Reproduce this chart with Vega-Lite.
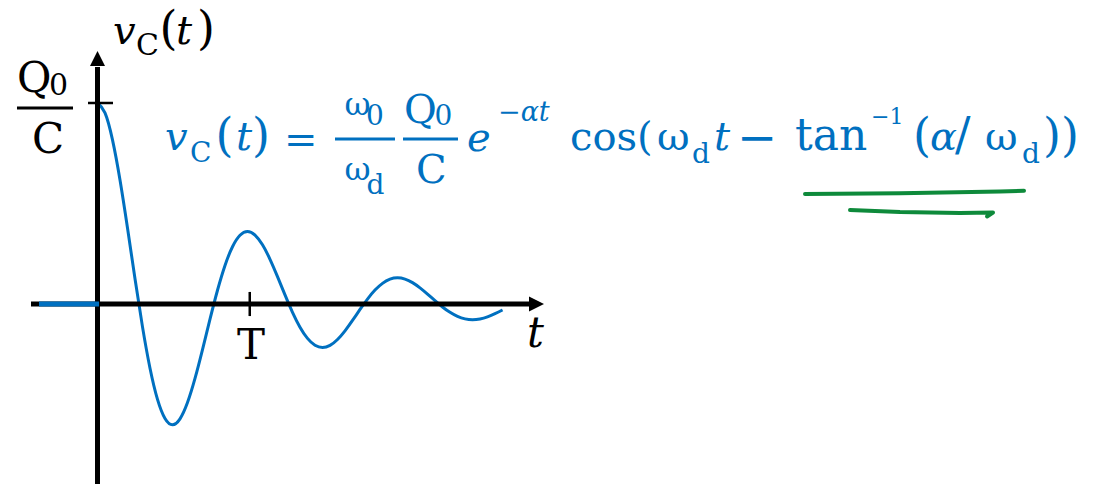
{
  "$schema": "https://vega.github.io/schema/vega-lite/v6.json",
  "width": 1094,
  "height": 484,
  "autosize": {"type": "none"},
  "padding": 0,
  "background": "white",
  "config": {"view": {"stroke": null}},
  "datasets": {
    "curve": [
      {"t": 0.00, "v": 1.0000}, {"t": 0.05, "v": 0.9513}, {"t": 0.10, "v": 0.8167}, {"t": 0.15, "v": 0.6171},
      {"t": 0.20, "v": 0.3779}, {"t": 0.25, "v": 0.1258}, {"t": 0.30, "v": -0.1139}, {"t": 0.35, "v": -0.3194},
      {"t": 0.40, "v": -0.4745}, {"t": 0.45, "v": -0.5693}, {"t": 0.50, "v": -0.6005}, {"t": 0.55, "v": -0.5713},
      {"t": 0.60, "v": -0.4904}, {"t": 0.65, "v": -0.3705}, {"t": 0.70, "v": -0.2269}, {"t": 0.75, "v": -0.0755},
      {"t": 0.80, "v": 0.0684}, {"t": 0.85, "v": 0.1918}, {"t": 0.90, "v": 0.2849}, {"t": 0.95, "v": 0.3418},
      {"t": 1.00, "v": 0.3606}, {"t": 1.05, "v": 0.3430}, {"t": 1.10, "v": 0.2945}, {"t": 1.15, "v": 0.2225},
      {"t": 1.20, "v": 0.1363}, {"t": 1.25, "v": 0.0454}, {"t": 1.30, "v": -0.0411}, {"t": 1.35, "v": -0.1152},
      {"t": 1.40, "v": -0.1711}, {"t": 1.45, "v": -0.2053}, {"t": 1.50, "v": -0.2165}, {"t": 1.55, "v": -0.2060},
      {"t": 1.60, "v": -0.1768}, {"t": 1.65, "v": -0.1336}, {"t": 1.70, "v": -0.0818}, {"t": 1.75, "v": -0.0272},
      {"t": 1.80, "v": 0.0247}, {"t": 1.85, "v": 0.0692}, {"t": 1.90, "v": 0.1027}, {"t": 1.95, "v": 0.1233},
      {"t": 2.00, "v": 0.1300}, {"t": 2.05, "v": 0.1237}, {"t": 2.10, "v": 0.1062}, {"t": 2.15, "v": 0.0802},
      {"t": 2.20, "v": 0.0491}, {"t": 2.25, "v": 0.0164}, {"t": 2.30, "v": -0.0148}, {"t": 2.35, "v": -0.0415},
      {"t": 2.40, "v": -0.0617}, {"t": 2.45, "v": -0.0740}, {"t": 2.50, "v": -0.0781}, {"t": 2.55, "v": -0.0743},
      {"t": 2.60, "v": -0.0638}, {"t": 2.65, "v": -0.0482}, {"t": 2.70, "v": -0.0295}
    ],
    "before": [{"t": -0.39, "v": 0}, {"t": 0.01, "v": 0}],
    "xAxisLine": [{"t": -0.4433, "v": 0}, {"t": 2.8833, "v": 0}],
    "yAxisLine": [{"t": 0, "v": -0.8955}, {"t": 0, "v": 1.1791}],
    "xArrow": [{"t": 2.9767, "v": 0}],
    "yArrow": [{"t": 0, "v": 1.2587}],
    "ticks": [
      {"id": "Q0/C", "t": -0.0633, "v": 1}, {"id": "Q0/C", "t": 0.1033, "v": 1},
      {"id": "T", "t": 1.015, "v": 0.06}, {"id": "T", "t": 1.015, "v": -0.06}
    ],
    "axisFractionBar": [{"t": -0.5367, "v": 0.9751}, {"t": -0.1633, "v": 0.9751}],
    "formulaBars": [
      {"id": "w0/wd", "t": 1.5833, "v": 0.8209}, {"id": "w0/wd", "t": 1.9833, "v": 0.8209},
      {"id": "Q0/C", "t": 2.0367, "v": 0.8209}, {"id": "Q0/C", "t": 2.4033, "v": 0.8209}
    ],
    "underlines": [
      {"id": 1, "seq": 1, "t": 4.7167, "v": 0.5473}, {"id": 1, "seq": 2, "t": 5.35, "v": 0.5507},
      {"id": 1, "seq": 3, "t": 6.0167, "v": 0.5597}, {"id": 1, "seq": 4, "t": 6.1767, "v": 0.5632},
      {"id": 2, "seq": 1, "t": 5.0167, "v": 0.4677}, {"id": 2, "seq": 2, "t": 5.35, "v": 0.4577},
      {"id": 2, "seq": 3, "t": 5.75, "v": 0.4527}, {"id": 2, "seq": 4, "t": 5.97, "v": 0.4552},
      {"id": 2, "seq": 5, "t": 5.93, "v": 0.4353}
    ],
    "axisItalic": [
      {"text": "v", "t": 0.1033, "v": 1.2935}, {"text": "t", "t": 0.5233, "v": 1.2935}
    ],
    "axisParens": [
      {"text": "(", "t": 0.4133, "v": 1.2935}, {"text": ")", "t": 0.6633, "v": 1.2935}
    ],
    "axisSub": [
      {"text": "C", "t": 0.2567, "v": 1.2388}, {"text": "0", "t": -0.3233, "v": 1.0398}
    ],
    "axisLarge": [
      {"text": "Q", "t": -0.5367, "v": 1.0547}, {"text": "C", "t": -0.4367, "v": 0.7512},
      {"text": "T", "t": 0.93, "v": -0.2736}
    ],
    "axisTime": [{"text": "t", "t": 2.8633, "v": -0.2139}],
    "formulaItalic": [
      {"text": "v", "t": 0.45, "v": 0.7662}, {"text": "t", "t": 0.9233, "v": 0.7662},
      {"text": "e", "t": 2.4633, "v": 0.7612}, {"text": "t", "t": 4.11, "v": 0.7662},
      {"text": "α", "t": 5.55, "v": 0.7662}
    ],
    "formulaParens": [
      {"text": "(", "t": 0.7867, "v": 0.7612}, {"text": ")", "t": 1.03, "v": 0.7612},
      {"text": "(", "t": 5.4367, "v": 0.7612}, {"text": "/", "t": 5.7167, "v": 0.7662},
      {"text": "))", "t": 6.3033, "v": 0.7612}
    ],
    "formulaUpright": [
      {"text": "=", "t": 1.2433, "v": 0.7512}, {"text": "Q", "t": 2.0433, "v": 0.9005},
      {"text": "C", "t": 2.1233, "v": 0.602}, {"text": "cos(", "t": 3.15, "v": 0.7662},
      {"text": "ω", "t": 3.73, "v": 0.7662}, {"text": "ω", "t": 5.9167, "v": 0.7662}
    ],
    "formulaMinus": [{"text": "−", "t": 4.2633, "v": 0.7463}],
    "formulaTan": [{"text": "tan", "t": 4.65, "v": 0.7662}],
    "formulaOmega": [
      {"text": "ω", "t": 1.6467, "v": 0.9403}, {"text": "ω", "t": 1.6467, "v": 0.6169}
    ],
    "formulaSmall": [
      {"text": "0", "t": 1.79, "v": 0.8905}, {"text": "d", "t": 1.7933, "v": 0.5473},
      {"text": "0", "t": 2.2467, "v": 0.8905}
    ],
    "formulaSub": [
      {"text": "C", "t": 0.6167, "v": 0.7065}, {"text": "d", "t": 3.9633, "v": 0.7015},
      {"text": "d", "t": 6.1633, "v": 0.7015}
    ],
    "formulaPower": [{"text": "−1", "t": 5.1567, "v": 0.8955}],
    "formulaExponent": [{"text": "−αt", "t": 2.67, "v": 0.9104}]
  },
  "encoding": {
    "x": {"field": "t", "type": "quantitative", "scale": {"domain": [-0.65, 6.6433], "nice": false, "zero": false}, "axis": null},
    "y": {"field": "v", "type": "quantitative", "scale": {"domain": [-0.8955, 1.5124], "nice": false, "zero": false}, "axis": null}
  },
  "layer": [
    {
      "data": {"name": "curve"},
      "mark": {"type": "line", "color": "#0070C0", "strokeWidth": 3, "interpolate": "natural"},
      "encoding": {}
    },
    {
      "data": {"name": "xAxisLine"},
      "mark": {"type": "line", "color": "black", "strokeWidth": 5, "strokeCap": "butt"},
      "encoding": {}
    },
    {
      "data": {"name": "yAxisLine"},
      "mark": {"type": "line", "color": "black", "strokeWidth": 5, "strokeCap": "butt"},
      "encoding": {"order": {"field": "v"}}
    },
    {
      "data": {"name": "xArrow"},
      "mark": {"type": "point", "shape": "M 0 0 L -2 -1 L -2 1 Z", "size": 225, "filled": true, "color": "black", "opacity": 1}
    },
    {
      "data": {"name": "yArrow"},
      "mark": {"type": "point", "shape": "M 0 0 L -1 2 L 1 2 Z", "size": 225, "filled": true, "color": "black", "opacity": 1}
    },
    {
      "data": {"name": "ticks"},
      "mark": {"type": "line", "color": "black", "strokeWidth": 2.5, "strokeCap": "butt"},
      "encoding": {"detail": {"field": "id"}, "order": {"field": "v"}}
    },
    {
      "data": {"name": "before"},
      "mark": {"type": "line", "color": "#0070C0", "strokeWidth": 5, "strokeCap": "butt"},
      "encoding": {}
    },
    {
      "data": {"name": "axisFractionBar"},
      "mark": {"type": "line", "color": "black", "strokeWidth": 3, "strokeCap": "butt"},
      "encoding": {}
    },
    {
      "data": {"name": "formulaBars"},
      "mark": {"type": "line", "color": "#0070C0", "strokeWidth": 3, "strokeCap": "butt"},
      "encoding": {"detail": {"field": "id"}}
    },
    {
      "data": {"name": "underlines"},
      "mark": {"type": "line", "color": "#0E8A3B", "strokeWidth": 4, "strokeCap": "round", "strokeJoin": "round"},
      "encoding": {"detail": {"field": "id"}, "order": {"field": "seq"}}
    },
    {
      "data": {"name": "axisItalic"},
      "mark": {"type": "text", "font": "DejaVu Serif", "fontStyle": "italic", "fontSize": 40, "align": "left", "baseline": "alphabetic", "color": "black"},
      "encoding": {"text": {"field": "text"}}
    },
    {
      "data": {"name": "axisParens"},
      "mark": {"type": "text", "font": "DejaVu Serif", "fontSize": 46, "align": "left", "baseline": "alphabetic", "color": "black"},
      "encoding": {"text": {"field": "text"}}
    },
    {
      "data": {"name": "axisSub"},
      "mark": {"type": "text", "font": "DejaVu Serif", "fontSize": 30, "align": "left", "baseline": "alphabetic", "color": "black"},
      "encoding": {"text": {"field": "text"}}
    },
    {
      "data": {"name": "axisLarge"},
      "mark": {"type": "text", "font": "DejaVu Serif", "fontSize": 42, "align": "left", "baseline": "alphabetic", "color": "black"},
      "encoding": {"text": {"field": "text"}}
    },
    {
      "data": {"name": "axisTime"},
      "mark": {"type": "text", "font": "DejaVu Serif", "fontStyle": "italic", "fontSize": 42, "align": "left", "baseline": "alphabetic", "color": "black"},
      "encoding": {"text": {"field": "text"}}
    },
    {
      "data": {"name": "formulaItalic"},
      "mark": {"type": "text", "font": "DejaVu Serif", "fontStyle": "italic", "fontSize": 40, "align": "left", "baseline": "alphabetic", "color": "#0070C0"},
      "encoding": {"text": {"field": "text"}}
    },
    {
      "data": {"name": "formulaParens"},
      "mark": {"type": "text", "font": "DejaVu Serif", "fontSize": 46, "align": "left", "baseline": "alphabetic", "color": "#0070C0"},
      "encoding": {"text": {"field": "text"}}
    },
    {
      "data": {"name": "formulaUpright"},
      "mark": {"type": "text", "font": "DejaVu Serif", "fontSize": 40, "align": "left", "baseline": "alphabetic", "color": "#0070C0"},
      "encoding": {"text": {"field": "text"}}
    },
    {
      "data": {"name": "formulaMinus"},
      "mark": {"type": "text", "font": "DejaVu Serif", "fontSize": 48, "align": "left", "baseline": "alphabetic", "color": "#0070C0"},
      "encoding": {"text": {"field": "text"}}
    },
    {
      "data": {"name": "formulaTan"},
      "mark": {"type": "text", "font": "DejaVu Serif", "fontSize": 44, "align": "left", "baseline": "alphabetic", "color": "#0070C0"},
      "encoding": {"text": {"field": "text"}}
    },
    {
      "data": {"name": "formulaOmega"},
      "mark": {"type": "text", "font": "DejaVu Serif", "fontSize": 32, "align": "left", "baseline": "alphabetic", "color": "#0070C0"},
      "encoding": {"text": {"field": "text"}}
    },
    {
      "data": {"name": "formulaSmall"},
      "mark": {"type": "text", "font": "DejaVu Serif", "fontSize": 28, "align": "left", "baseline": "alphabetic", "color": "#0070C0"},
      "encoding": {"text": {"field": "text"}}
    },
    {
      "data": {"name": "formulaSub"},
      "mark": {"type": "text", "font": "DejaVu Serif", "fontSize": 28, "align": "left", "baseline": "alphabetic", "color": "#0070C0"},
      "encoding": {"text": {"field": "text"}}
    },
    {
      "data": {"name": "formulaPower"},
      "mark": {"type": "text", "font": "DejaVu Serif", "fontSize": 22, "align": "left", "baseline": "alphabetic", "color": "#0070C0"},
      "encoding": {"text": {"field": "text"}}
    },
    {
      "data": {"name": "formulaExponent"},
      "mark": {"type": "text", "font": "DejaVu Serif", "fontStyle": "italic", "fontSize": 27, "align": "left", "baseline": "alphabetic", "color": "#0070C0"},
      "encoding": {"text": {"field": "text"}}
    }
  ]
}
